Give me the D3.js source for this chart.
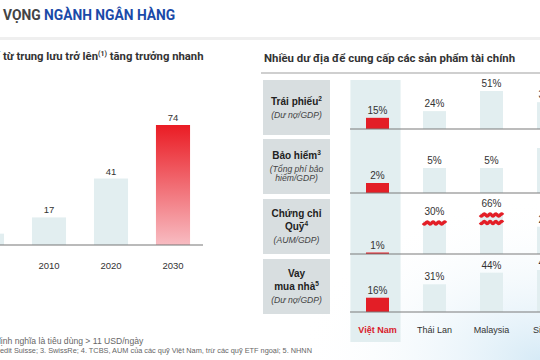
<!DOCTYPE html>
<html>
<head>
<meta charset="utf-8">
<script src="https://cdn.jsdelivr.net/npm/d3@7"></script>
<style>
  body { margin: 0; background: #fff; }
  svg { display: block; font-family: "Liberation Sans", Arial, sans-serif; }
  .title { font-family: Roboto, sans-serif; font-weight: 700; }
</style>
</head>
<body>
<svg width="540" height="360"></svg>
<script>
// ---- data ----
const years = ['2000', '2010', '2020', '2030'];
const middleClass = [7, 17, 41, 74];

const countries = ['Việt Nam', 'Thái Lan', 'Malaysia', 'Singapore'];
const rowTitles = [
    [['Trái phiếu', '2']],
    [['Bảo hiểm', '3']],
    [['Chứng chỉ', ''], ['Quỹ', '4']],
    [['Vay', ''], ['mua nhà', '5']]
];
const rowNotes = [
    ['(Dư nợ/GDP)'],
    ['(Tổng phí bảo', 'hiểm/GDP)'],
    ['(AUM/GDP)'],
    ['(Dư nợ/GDP)']
];
const bonds = [15, 24, 51, 36];
const insurance = [2, 5, 5, 9];
const funds = [1, 30, 66, 22];
const mortgage = [16, 31, 44, 47];
const fundBreaks = [0, 1, 2, 0];

const rows = [bonds, insurance, funds, mortgage];

const RED = '#e31e26';
const LIGHT = '#e2eef0';

const svg = d3.select('svg');

// faint blue glow bottom right
const defs = svg.append('defs');
const glow = defs.append('radialGradient').attr('id', 'glow')
    .attr('cx', 1).attr('cy', 1).attr('r', 0.45);
glow.append('stop').attr('offset', '0%').attr('stop-color', '#d6eaf6');
glow.append('stop').attr('offset', '100%').attr('stop-color', '#ffffff').attr('stop-opacity', 0);
svg.append('rect').attr('width', 540).attr('height', 360).attr('fill', '#fff');
svg.append('rect').attr('width', 540).attr('height', 360).attr('fill', 'url(#glow)');

const redGrad = defs.append('linearGradient').attr('id', 'redGrad')
    .attr('x1', 0).attr('y1', 0).attr('x2', 0).attr('y2', 1);
redGrad.append('stop').attr('offset', '0%').attr('stop-color', '#ea1c24');
redGrad.append('stop').attr('offset', '100%').attr('stop-color', '#f8bcc2');

// header (the slide is cropped on the left, so the start of each line sits off-canvas)
svg.append('text').attr('class', 'title')
    .attr('x', -1).attr('y', 20).attr('text-anchor', 'end')
    .attr('font-size', 13.8).attr('fill', '#444').text('TRIỂN');
const title = svg.append('text').attr('class', 'title')
    .attr('x', 3).attr('y', 20).attr('font-size', 13.8);
title.append('tspan').attr('fill', '#444').text('VỌNG ');
title.append('tspan').attr('fill', '#1a4aa8').text('NGÀNH NGÂN HÀNG');

svg.append('rect').attr('x', 0).attr('y', 37).attr('width', 540).attr('height', 3).attr('fill', '#efefef');

svg.append('text').attr('class', 'title')
    .attr('x', 0).attr('y', 60).attr('text-anchor', 'end')
    .attr('font-size', 11.3).attr('fill', '#333').text('Dân số');
const sub = svg.append('text').attr('class', 'title')
    .attr('x', 3).attr('y', 60)
    .attr('font-size', 11.3).attr('fill', '#333');
sub.append('tspan').text('từ trung lưu trở lên');
sub.append('tspan').attr('font-size', 7).attr('dy', -4).text('(1)');
sub.append('tspan').attr('dy', 4).text(' tăng trưởng nhanh');

svg.append('text').attr('class', 'title')
    .attr('x', 264).attr('y', 62).attr('font-size', 11.4).attr('fill', '#333')
    .text('Nhiều dư địa để cung cấp các sản phẩm tài chính');
svg.append('rect').attr('x', 261).attr('y', 72).attr('width', 279).attr('height', 2).attr('fill', '#cfcfcf');

// ---- left bar chart ----
const x = d3.scaleBand().domain(years).range([-44, 204])
    .paddingInner(0.45).paddingOuter(0.225);
const y = d3.scaleLinear().domain([0, 74]).range([245, 125]);

svg.append('g').selectAll('rect')
    .data(years)
    .enter()
    .append('rect')
    .attr('x', d => x(d))
    .attr('y', (d, i) => y(middleClass[i]))
    .attr('width', x.bandwidth())
    .attr('height', (d, i) => y(0) - y(middleClass[i]))
    .attr('fill', (d, i) => i === years.length - 1 ? 'url(#redGrad)' : LIGHT);

svg.append('g').selectAll('text')
    .data(years)
    .enter()
    .append('text')
    .attr('x', d => x(d) + x.bandwidth() / 2)
    .attr('y', (d, i) => y(middleClass[i]) - 4)
    .attr('text-anchor', 'middle')
    .attr('font-size', 9.5)
    .attr('fill', '#333')
    .text((d, i) => middleClass[i]);

const xAxis = svg.append('g')
    .attr('transform', 'translate(0,245)')
    .call(d3.axisBottom(x).tickSize(0).tickPadding(17));
xAxis.select('.domain').attr('d', 'M0,0H203').attr('stroke', '#777').attr('stroke-width', 1.2);
xAxis.selectAll('text').attr('font-size', 9.5).attr('fill', '#333')
    .attr('font-family', '"Liberation Sans", Arial, sans-serif');

// ---- right panel ----
const cx = d3.scaleBand().domain(countries).range([347, 575])
    .paddingInner(0.12).paddingOuter(0.06);
const barW = 23;
const barX = d => cx(d) + cx.bandwidth() / 2 - barW / 2 + 2;

const boxTop = [80, 139, 199, 259];
const boxH = 55;
const rowBase = [129, 193, 254, 312];
const rowBarMax = [38, 45, 0, 42];

// Viet Nam column background
svg.append('rect')
    .attr('x', cx(countries[0])).attr('y', 80)
    .attr('width', cx.bandwidth()).attr('height', 262)
    .attr('fill', LIGHT);

rows.forEach((vals, r) => {
    const g = svg.append('g');
    // row header box
    g.append('rect').attr('x', 263).attr('y', boxTop[r])
        .attr('width', 67).attr('height', boxH).attr('fill', '#d8dee0');

    const lines = rowTitles[r].map(t => ({t: t, b: true}))
        .concat(rowNotes[r].map(t => ({t: t, b: false})));
    let span = 0;
    const gaps = lines.map((l, i) => {
        if (i === 0) return 0;
        const gp = (!l.b && !lines[i - 1].b) ? 8.5 : 13;
        span += gp;
        return gp;
    });
    let yy = boxTop[r] + boxH / 2 - span / 2 + 3.5;
    lines.forEach((l, i) => {
        yy += gaps[i];
        const t = g.append('text').attr('x', 296.5).attr('y', yy)
            .attr('text-anchor', 'middle');
        if (l.b) {
            t.attr('font-size', 10).attr('font-weight', 700).attr('fill', '#222');
            t.append('tspan').text(l.t[0]);
            if (l.t[1]) t.append('tspan').attr('font-size', 6.5).attr('dy', -4).text(l.t[1]);
        } else {
            t.attr('font-size', 8.6).attr('font-style', 'italic').attr('fill', '#444').text(l.t);
        }
    });

    // scale per row; fund row uses a broken axis
    const s = r === 2
        ? d3.scaleLinear().domain([0, 25, 30, 66]).range([0, 31, 33, 41])
        : d3.scaleLinear().domain([0, d3.max(vals)]).range([0, rowBarMax[r]]);

    g.selectAll('.bar')
        .data(countries)
        .enter()
        .append('rect')
        .attr('x', d => barX(d))
        .attr('y', (d, i) => rowBase[r] - Math.max(s(vals[i]), 1.5))
        .attr('width', barW)
        .attr('height', (d, i) => Math.max(s(vals[i]), 1.5))
        .attr('fill', (d, i) => i === 0 ? RED : LIGHT);

    if (r === 2) {
        countries.forEach((d, i) => {
            const top = rowBase[r] - s(vals[i]);
            for (let k = 0; k < fundBreaks[i]; k++) {
                const wy = top + 2 + k * 7.5;
                const pts = d3.range(0, barW + 0.5, 0.5).map(t => [barX(d) + t, wy + 1.1 * Math.sin(t / barW * Math.PI * 8)]);
                g.append('path').attr('d', d3.line()(pts))
                    .attr('fill', 'none').attr('stroke', RED).attr('stroke-width', 3.2);
            }
        });
    }

    g.selectAll('.lbl')
        .data(countries)
        .enter()
        .append('text')
        .attr('x', d => barX(d) + barW / 2)
        .attr('y', (d, i) => rowBase[r] - s(vals[i]) - (r === 2 && fundBreaks[i] ? 6 : 4))
        .attr('text-anchor', 'middle')
        .attr('font-size', 10)
        .attr('fill', '#333')
        .text((d, i) => vals[i] + '%');

    g.append('line')
        .attr('x1', 350).attr('x2', 540)
        .attr('y1', rowBase[r]).attr('y2', rowBase[r])
        .attr('stroke', '#7a7a7a').attr('stroke-width', 1.2);
});

svg.append('g').selectAll('text')
    .data(countries)
    .enter()
    .append('text')
    .attr('x', (d, i) => cx(d) + cx.bandwidth() / 2 + (i === 3 ? 7 : 2))
    .attr('y', 333)
    .attr('text-anchor', 'middle')
    .attr('font-size', 9)
    .attr('font-weight', (d, i) => i === 0 ? 700 : 400)
    .attr('fill', (d, i) => i === 0 ? '#d9202a' : '#333')
    .text(d => d);

// footnotes
svg.append('text').attr('x', -4).attr('y', 344).attr('text-anchor', 'end')
    .attr('font-size', 8.6).attr('fill', '#666')
    .text('1. Tầng lớp trung lưu được');
svg.append('text').attr('x', -4).attr('y', 344)
    .attr('font-size', 8.6).attr('fill', '#666')
    .text('định nghĩa là tiêu dùng > 11 USD/ngày');
svg.append('text').attr('x', 0).attr('y', 353).attr('text-anchor', 'end')
    .attr('font-size', 7.35).attr('fill', '#666')
    .text('Nguồn: 1. World Data Lab; 2. Cr');
svg.append('text').attr('x', 0).attr('y', 353)
    .attr('font-size', 7.35).attr('fill', '#666')
    .text('edit Suisse; 3. SwissRe; 4. TCBS, AUM của các quỹ Việt Nam, trừ các quỹ ETF ngoại; 5. NHNN');
</script>
</body>
</html>
